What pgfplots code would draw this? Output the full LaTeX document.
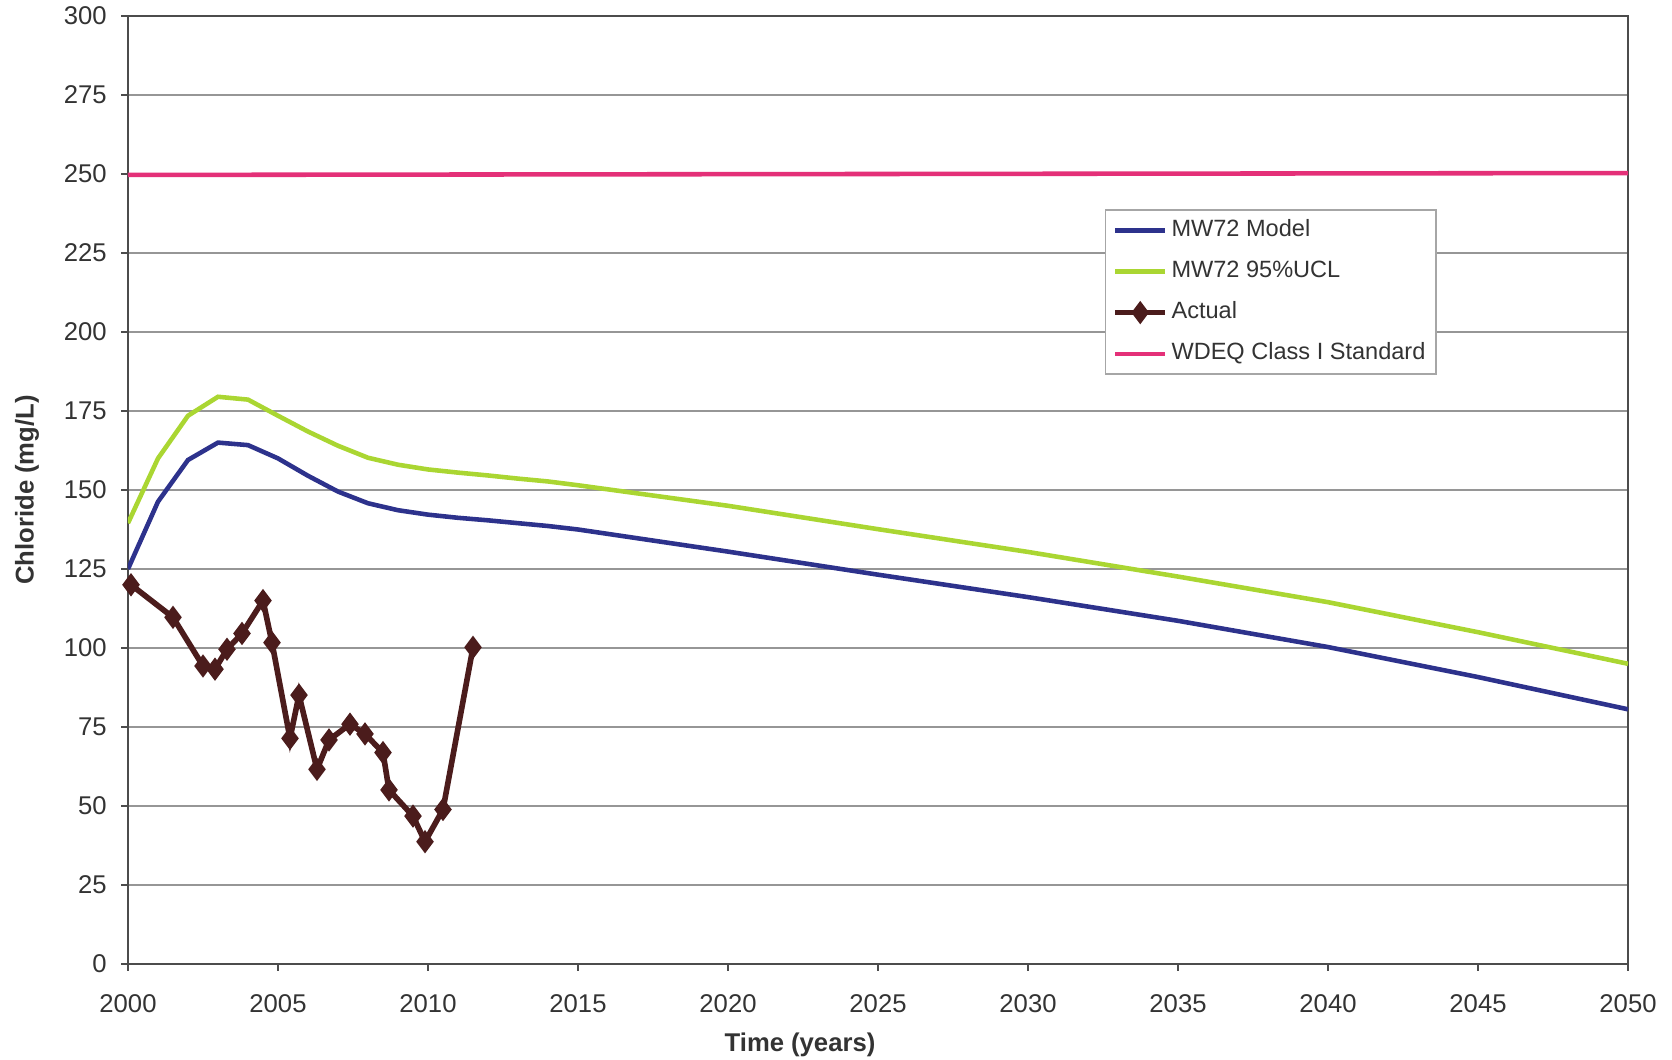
\documentclass[border=0pt]{standalone}
\usepackage{pgfplots}
\pgfplotsset{compat=1.18}
\usepackage{fontspec}
\setmainfont{Liberation Sans}

\definecolor{modelblue}{RGB}{45,50,140}
\definecolor{uclgreen}{RGB}{170,214,50}
\definecolor{actualbrown}{RGB}{75,28,28}
\definecolor{stdpink}{RGB}{228,48,120}
\definecolor{gridgray}{RGB}{150,150,150}

\begin{document}
\begin{tikzpicture}
% page = 1672 x 1060 px at 0.01cm per px, axis box from (128,16) to (1628,964)
\useasboundingbox (-1.28cm,-0.96cm) rectangle (15.44cm,9.64cm);
\begin{axis}[
  at={(0,0)}, anchor=south west,
  scale only axis, width=15cm, height=9.48cm,
  xmin=2000, xmax=2050, ymin=0, ymax=300,
  xtick={2000,2005,...,2050}, ytick={0,25,...,300},
  ymajorgrids, grid style={gridgray, line width=0.6pt},
  axis line style={gray!60!black, line width=0.6pt},
  tick align=outside, major tick length=0.07cm,
  tick style={gray!60!black, line width=0.6pt},
  xtick pos=bottom, ytick pos=left,
  tick label style={font=\fontsize{7.3}{8.5}\selectfont, text=black!80,
    /pgf/number format/assume math mode=true, /pgf/number format/1000 sep={}},
  xticklabel style={yshift=-0.11cm},
  yticklabel style={xshift=-0.02cm},
  xlabel={\textbf{Time (years)}},
  ylabel={\textbf{Chloride (mg/L)}},
  label style={font=\fontsize{7.3}{8.5}\selectfont, text=black!80},
  xlabel style={at={(axis description cs:0.448,-0.085)}, anchor=center},
  ylabel style={at={(axis description cs:-0.0673,0.5)}, anchor=center},
  legend style={at={(0.651,0.796)}, anchor=north west, draw=gray!70,
    font=\fontsize{6.7}{8}\selectfont, text=black!80, row sep=1pt,
    inner xsep=2pt, inner ysep=0.4pt, line width=0.5pt,
    nodes={inner xsep=1pt, inner ysep=2.2pt}},
  legend cell align=left,
  legend image code/.code={\draw[mark repeat=2,mark phase=2] plot coordinates {(0cm,0cm) (0.25cm,0cm) (0.5cm,0cm)};},
]
\addplot[modelblue, line width=1.3pt, no marks] coordinates {
(2000,125) (2001,146.3) (2002,159.5) (2003,165) (2004,164.2) (2005,160)
(2006,154.5) (2007,149.5) (2008,145.8) (2009,143.6) (2010,142.2) (2011,141.2)
(2012,140.4) (2013,139.5) (2014,138.6) (2015,137.5) (2020,130.5) (2025,123.2)
(2030,116.1) (2035,108.6) (2040,100.3) (2045,90.8) (2050,80.6)};
\addlegendentry{MW72 Model}
\addplot[uclgreen, line width=1.3pt, no marks] coordinates {
(2000,139.5) (2001,160) (2002,173.5) (2003,179.5) (2004,178.6) (2005,173.5)
(2006,168.5) (2007,164) (2008,160.2) (2009,158) (2010,156.5) (2011,155.5)
(2012,154.6) (2013,153.6) (2014,152.7) (2015,151.5) (2020,145) (2025,137.6)
(2030,130.4) (2035,122.6) (2040,114.5) (2045,105) (2050,95)};
\addlegendentry{MW72 95\%UCL}
\addplot[actualbrown, line width=1.6pt, mark=diamond*, mark size=2pt,
  mark options={solid, fill=actualbrown}] coordinates {
(2000.1,120) (2001.5,109.7) (2002.5,94.3) (2002.9,93.3) (2003.3,99.6)
(2003.8,104.6) (2004.5,115) (2004.8,101.7) (2005.4,71.4) (2005.7,85.1)
(2006.3,61.6) (2006.7,70.9) (2007.4,75.9) (2007.9,72.8) (2008.5,66.9)
(2008.7,55.1) (2009.5,46.8) (2009.9,38.7) (2010.5,48.9) (2011.5,100.2)};
\addlegendentry{Actual}
\addplot[stdpink, line width=1.3pt, no marks] coordinates {(2000,249.7) (2050,250.3)};
\addlegendentry{WDEQ Class I Standard}
\end{axis}
\end{tikzpicture}
\end{document}
